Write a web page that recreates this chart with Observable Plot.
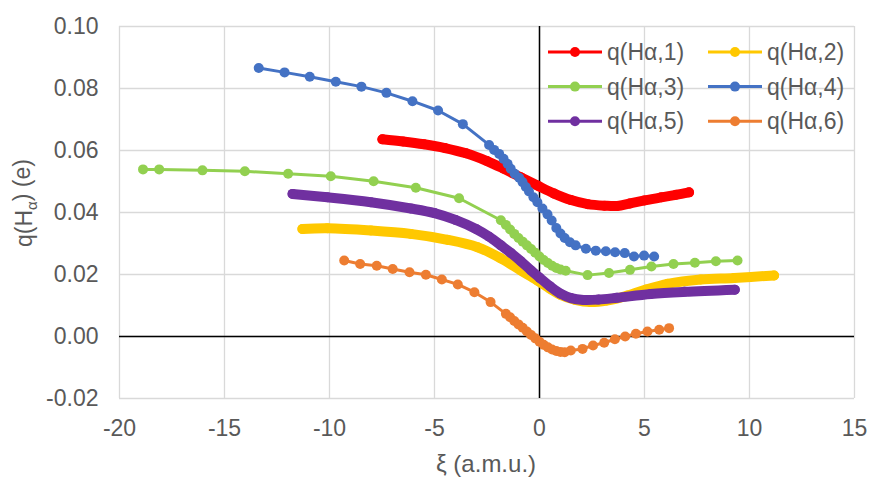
<!DOCTYPE html>
<html>
<head>
<meta charset="utf-8">
<script src="https://cdn.jsdelivr.net/npm/d3@7"></script>
<script src="https://cdn.jsdelivr.net/npm/@observablehq/plot@0.6"></script>
<style>
  html, body { margin: 0; padding: 0; background: #ffffff; }
  #chart { width: 869px; height: 477px; }
</style>
</head>
<body>
<div id="chart"></div>
<script>
// ---- Data ----
const seriesNames = ["q(Hα,1)", "q(Hα,2)", "q(Hα,3)", "q(Hα,4)", "q(Hα,5)", "q(Hα,6)"];
const seriesColors = ["#FF0000", "#FFC800", "#92D050", "#4472C4", "#7030A0", "#ED7D31"];
const seriesDense = [true, true, false, false, true, false];

const xi1 = [-7.48,-6.5,-5.5,-4.5,-3.5,-2.5,-1.7,-0.9,-0.1,0.7,1.5,2.3,3.1,3.7,4.3,5.0,5.8,6.5,7.12];
const q1  = [0.0636,0.0629,0.0620,0.0608,0.0591,0.0566,0.0541,0.0514,0.0487,0.0461,0.0440,0.0427,0.0422,0.0421,0.0429,0.0439,0.0449,0.0457,0.0465];

const xi2 = [-11.29,-10.1,-8.03,-6.13,-4.38,-2.95,-1.84,-0.89,-0.10,0.6,1.01,1.7,2.44,3.2,4.19,5.1,6.10,7.68,9.27,11.17];
const q2  = [0.0347,0.0349,0.0342,0.0331,0.0312,0.0288,0.0252,0.0213,0.0181,0.0150,0.0134,0.0118,0.0111,0.0116,0.0132,0.0152,0.0170,0.0184,0.0189,0.0197];

const xi3 = [-18.88,-18.11,-16.05,-14.03,-11.97,-9.94,-7.90,-5.89,-3.83,-1.84,-1.6,-1.4,-1.2,-1.0,-0.8,-0.6,-0.4,-0.2,0,0.2,0.4,0.6,0.8,1.0,1.25,2.29,3.31,4.31,5.33,6.38,7.40,8.40,9.43];
const q3  = [0.0539,0.0539,0.0536,0.0533,0.0525,0.0517,0.0501,0.0480,0.0446,0.0375,0.0360,0.0345,0.0331,0.0318,0.0306,0.0294,0.0282,0.0270,0.0258,0.0247,0.0237,0.0228,0.0221,0.0216,0.0212,0.0198,0.0205,0.0215,0.0226,0.0234,0.0238,0.0243,0.0245];

const xi4 = [-13.37,-12.14,-10.94,-9.70,-8.48,-7.29,-6.05,-4.83,-3.65,-2.40,-2.16,-1.92,-1.71,-1.52,-1.37,-1.18,-0.97,-0.81,-0.65,-0.50,-0.29,-0.10,0.14,0.38,0.58,0.80,1.0,1.2,1.45,1.72,2.21,2.68,3.16,3.60,4.06,4.50,4.98,5.46];
const q4  = [0.0866,0.0852,0.0838,0.0822,0.0806,0.0786,0.0759,0.0729,0.0685,0.0618,0.0602,0.0589,0.0573,0.0557,0.0541,0.0525,0.0512,0.0498,0.0482,0.0468,0.0449,0.0433,0.0413,0.0394,0.0374,0.0350,0.0332,0.0318,0.0304,0.0294,0.0283,0.0277,0.0275,0.0272,0.0269,0.0258,0.0261,0.0258];

const xi5 = [-11.76,-10.1,-8.03,-6.13,-5.0,-4.0,-3.0,-2.4,-1.84,-1.37,-0.89,-0.4,0,0.5,1.0,1.5,2.1,2.8,3.7,5.3,6.9,9.3];
const q5  = [0.0460,0.0449,0.0433,0.0413,0.0398,0.0376,0.0346,0.0322,0.0294,0.0270,0.0243,0.0213,0.0190,0.0162,0.0138,0.0124,0.0118,0.0119,0.0125,0.0137,0.0144,0.0151];

const xi6 = [-9.30,-8.54,-7.75,-6.99,-6.19,-5.41,-4.65,-3.89,-3.10,-2.33,-1.60,-1.4,-1.2,-1.0,-0.8,-0.6,-0.4,-0.2,0,0.2,0.4,0.6,0.8,1.0,1.2,1.49,2.05,2.55,3.08,3.59,4.08,4.59,5.14,5.70,6.17];
const q6  = [0.0245,0.0234,0.0228,0.0218,0.0207,0.0199,0.0184,0.0168,0.0143,0.0111,0.0073,0.0062,0.0050,0.0039,0.0028,0.0016,0.0005,-0.0006,-0.0017,-0.0027,-0.0035,-0.0042,-0.0047,-0.0050,-0.0051,-0.0045,-0.0040,-0.0029,-0.0020,-0.0009,0.0000,0.0009,0.0016,0.0022,0.0027];

const xTicks = [-20, -15, -10, -5, 0, 5, 10, 15];
const yTicks = [-0.02, 0.00, 0.02, 0.04, 0.06, 0.08, 0.10];
const xTitle = "ξ (a.m.u.)";

// ---- Build tables ----
const xs = [xi1, xi2, xi3, xi4, xi5, xi6];
const qs = [q1, q2, q3, q4, q5, q6];
const series = seriesNames.map((name, i) => ({
  name, color: seriesColors[i], dense: seriesDense[i],
  data: xs[i].map((x, j) => ({x, y: qs[i][j]}))
}));

const font = "'Liberation Sans', Arial, sans-serif";
const textColor = "#595959";

const marks = [
  Plot.ruleX(xTicks, {stroke: "#d9d9d9", strokeWidth: 1.3}),
  Plot.ruleY(yTicks, {stroke: "#d9d9d9", strokeWidth: 1.3}),
  Plot.ruleX([0], {stroke: "#000000", strokeWidth: 1.5}),
  Plot.ruleY([0], {stroke: "#000000", strokeWidth: 1.5})
];
for (const s of series) {
  marks.push(Plot.line(s.data, {
    x: "x", y: "y", stroke: s.color,
    strokeWidth: s.dense ? 10 : 3,
    strokeLinecap: "round", strokeLinejoin: "round",
    curve: s.dense ? "catmull-rom" : "linear"
  }));
  marks.push(Plot.dot(s.data, {x: "x", y: "y", fill: s.color, r: 5, stroke: "none"}));
}

const chart = Plot.plot({
  width: 869,
  height: 477,
  marginLeft: 119,
  marginRight: 15,
  marginTop: 26,
  marginBottom: 79,
  x: {domain: [-20, 15], ticks: xTicks, tickSize: 0, tickPadding: 21, label: null, tickFormat: d => String(d)},
  y: {domain: [-0.02, 0.10], ticks: yTicks, tickSize: 0, tickPadding: 21, label: null, tickFormat: d => d.toFixed(2)},
  style: {fontFamily: font, fontSize: "23px", color: textColor, background: "#ffffff", overflow: "visible"},
  marks
});
document.getElementById("chart").appendChild(chart);

// ---- Axis titles and legend ----
const svg = d3.select(chart);
svg.append("text")
  .attr("x", 486).attr("y", 472)
  .attr("text-anchor", "middle")
  .attr("fill", textColor)
  .style("font-family", font).style("font-size", "24px")
  .text(xTitle);

const yt = svg.append("text")
  .attr("transform", "translate(32,203) rotate(-90)")
  .attr("text-anchor", "middle")
  .attr("fill", textColor)
  .style("font-family", font).style("font-size", "23px");
yt.append("tspan").text("q(H");
yt.append("tspan").attr("dy", "0.3em").style("font-size", "15px").text("α");
yt.append("tspan").attr("dy", "-0.3em").text(") (e)");

const lg = svg.append("g");
series.forEach((s, i) => {
  const col = i % 2, row = Math.floor(i / 2);
  const x0 = col ? 708 : 548;
  const y0 = 52 + row * 34.6;
  lg.append("line").attr("x1", x0).attr("x2", x0 + 54).attr("y1", y0).attr("y2", y0)
    .attr("stroke", s.color).attr("stroke-width", 3);
  lg.append("circle").attr("cx", x0 + 27).attr("cy", y0).attr("r", 5).attr("fill", s.color);
  lg.append("text").attr("x", x0 + 59).attr("y", y0).attr("dy", "0.35em")
    .attr("text-anchor", "start")
    .attr("fill", textColor)
    .style("font-family", font).style("font-size", "23px")
    .text(s.name);
});
</script>
</body>
</html>
